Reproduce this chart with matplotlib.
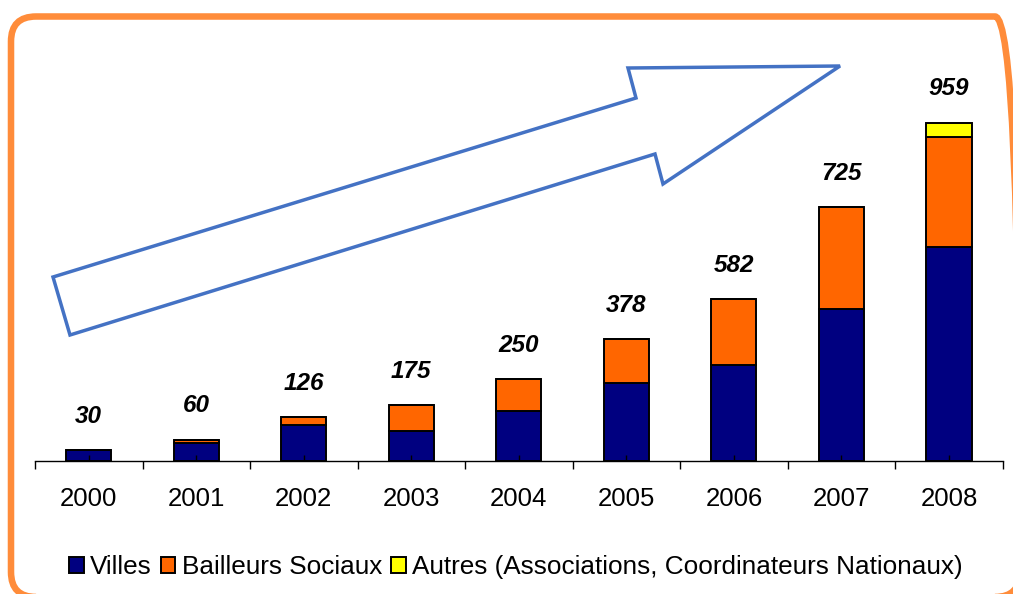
import matplotlib.pyplot as plt
import numpy as np
from matplotlib.patches import Polygon, FancyBboxPatch
from matplotlib.transforms import IdentityTransform

# data
years = ["2000", "2001", "2002", "2003", "2004", "2005", "2006", "2007", "2008"]
villes = [30, 49, 100, 83, 142, 221, 271, 430, 606]
bailleurs = [0, 11, 23, 75, 90, 124, 188, 289, 311]
autres = [0, 0, 0, 0, 0, 0, 0, 0, 42]
totals_text = ["30", "60", "126", "175", "250", "378", "582", "725", "959"]

W, H = 1013, 594
plt.rcParams['font.family'] = ['Liberation Sans', 'DejaVu Sans']

fig = plt.figure(figsize=(W / 100, H / 100), dpi=100)

# helper: pixel (from top-left) -> figure fraction
def px(x, y):
    return x / W, 1 - y / H

# axes placed so the baseline sits where the original one does
left, bottom = px(35, 460.7)
right, top = px(1002.7, 60)
ax = fig.add_axes([left, bottom, right - left, top - bottom])

x = np.arange(len(years))
bw = 0.42
villes = np.array(villes)
bailleurs = np.array(bailleurs)
autres = np.array(autres)

ax.bar(x, villes, bw, color="#000080", edgecolor="black", linewidth=1.4, label="Villes", zorder=2)
ax.bar(x, bailleurs, bw, bottom=villes, color="#FF6600", edgecolor="black", linewidth=1.4,
       label="Bailleurs Sociaux", zorder=2)
ax.bar(x, autres, bw, bottom=villes + bailleurs, color="#FFFF00", edgecolor="black", linewidth=1.4,
       label="Autres (Associations, Coordinateurs Nationaux)", zorder=2)

tops = villes + bailleurs + autres
for i, t in enumerate(tops):
    ax.annotate(totals_text[i], (x[i], t), xytext=(0, 16), textcoords="offset points",
                ha="center", va="bottom", fontsize=17.5, fontweight="bold", fontstyle="italic")

ax.set_xlim(-0.5, len(years) - 0.5)
ax.set_ylim(0, (460.7 - 60) / 0.3525)

for s in ["left", "right", "top"]:
    ax.spines[s].set_visible(False)
ax.spines["bottom"].set_linewidth(1.0)
ax.set_yticks([])

# boundary ticks pointing down, small centre ticks pointing up
ax.set_xticks(np.arange(-0.5, len(years), 1.0))
ax.set_xticklabels([])
ax.tick_params(axis="x", which="major", direction="out", length=6, width=1.0)
ax.set_xticks(x, minor=True)
ax.set_xticklabels(years, minor=True, fontsize=18.5)
ax.tick_params(axis="x", which="minor", direction="in", length=4, width=1.0, pad=19)
ax.set_axisbelow(False)

ax.legend(loc="center", bbox_to_anchor=px(516, 567), bbox_transform=fig.transFigure,
          ncol=3, frameon=False, fontsize=18.8, handlelength=0.55, handleheight=0.55,
          handletextpad=0.25, columnspacing=0.35, borderaxespad=0)

# big outlined arrow
arrow_pts = [(53, 277), (636, 98), (628, 68), (840, 66), (663, 184), (655, 154), (70, 335)]
arrow = Polygon([px(a, b) for a, b in arrow_pts], closed=True, fill=True, facecolor="white",
                edgecolor="#4472C4", linewidth=2.5, transform=fig.transFigure, zorder=5)
fig.patches.append(arrow)

# rounded orange frame, drawn in pixel space (right/bottom run off the image)
fx0, fx1 = 11, 1020
fy0, fy1 = H - 597, H - 16.5
frame = FancyBboxPatch((fx0, fy0), fx1 - fx0, fy1 - fy0,
                       boxstyle="round,pad=0,rounding_size=25",
                       facecolor="none", edgecolor="#FF8C3A", linewidth=4.7,
                       transform=IdentityTransform(), zorder=0)
fig.patches.append(frame)

fig.savefig("out.png", dpi=100)
